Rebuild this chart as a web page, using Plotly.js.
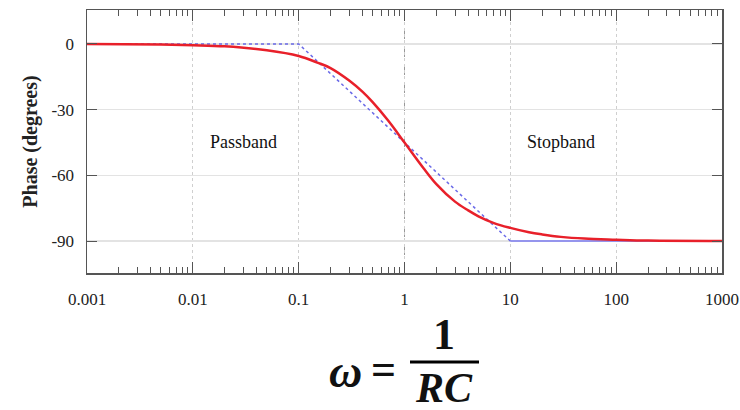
<!DOCTYPE html>
<html>
<head>
<meta charset="utf-8">
<script src="https://cdn.plot.ly/plotly-3.0.1.min.js"></script>
<style>html,body{margin:0;padding:0;background:#fff;}#chart{width:740px;height:410px;}</style>
</head>
<body>
<div id="chart"></div>
<script>
// Frequency (normalised, omega*RC) and phase
const freq = [0.001, 0.005, 0.01, 0.02, 0.05, 0.1, 0.15, 0.2, 0.3, 0.4, 0.5, 0.7, 1, 1.5, 2, 3, 4, 5, 7, 10, 15, 20, 30, 50, 100, 200, 1000];
const phase = [0, -0.3, -0.6, -1.1, -2.9, -5.5, -8.5, -11, -16.7, -21.8, -26.6, -35, -45, -56.5, -64, -72, -76, -78.7, -81.8, -84, -86, -87, -88.1, -88.9, -89.4, -89.8, -90];
// Straight-line (asymptotic) approximation
const asymFreq = [0.001, 0.1, 10];
const asymPhase = [0, 0, -90];
const flatFreq = [10, 1000];
const flatPhase = [-90, -90];
const yTicks = [0, -30, -60, -90];
const yTickText = ['0', '-30', '-60', '-90'];
const xTicks = [0.001, 0.01, 0.1, 1, 10, 100, 1000];
const xTickText = ['0.001', '0.01', '0.1', '1', '10', '100', '1000'];
const bandLabels = ['Passband', 'Stopband'];
const bandFreq = [0.03, 30];
const bandPhase = [-45, -45];

const serif = "'Liberation Serif', serif";

const traces = [
  {x: flatFreq, y: flatPhase, mode: 'lines', line: {color: '#7b7bf0', width: 1.5}, hoverinfo: 'skip'},
  {x: asymFreq, y: asymPhase, mode: 'lines', line: {color: '#6a6ae8', width: 1.5, dash: 'dot'}, hoverinfo: 'skip'},
  {x: freq, y: phase, mode: 'lines', line: {color: '#e8202a', width: 2.5, shape: 'spline'}}
];

const ann = (x, y, text, size, xref, yref) => ({x, y, text, showarrow: false, xref: xref || 'x', yref: yref || 'y', font: {family: serif, size, color: '#111'}, xanchor: 'center', yanchor: 'middle'});

const annotations = bandLabels.map((t, i) => ann(Math.log10(bandFreq[i]), bandPhase[i], t, 18));
annotations.push(
  ann((345 - 87) / 635, (273 - 371) / 263, '<b><i>ω</i></b>', 46, 'paper', 'paper'),
  ann((383 - 87) / 635, (273 - 369) / 263, '<b>=</b>', 44, 'paper', 'paper'),
  ann((444 - 87) / 635, (273 - 334) / 263, '<b>1</b>', 44, 'paper', 'paper'),
  ann((444 - 87) / 635, (273 - 388) / 263, '<b><i>RC</i></b>', 42, 'paper', 'paper')
);

const layout = {
  width: 740, height: 410,
  margin: {l: 87, r: 18, t: 10, b: 137},
  paper_bgcolor: '#fff', plot_bgcolor: '#fff',
  showlegend: false,
  font: {family: serif, color: '#222'},
  xaxis: {
    type: 'log', range: [-3, 3],
    tickvals: xTicks, ticktext: xTickText,
    ticks: 'inside', ticklen: 11, tickwidth: 1, tickcolor: '#555',
    mirror: 'allticks', showline: true, linecolor: '#555', linewidth: 1.5,
    showgrid: true, gridcolor: '#cfcfcf', griddash: 'dot', gridwidth: 1,
    tickfont: {family: serif, size: 17, color: '#222'},
    ticklabelstandoff: 10,
    zeroline: false,
    minor: {ticks: 'inside', ticklen: 6, tickcolor: '#555', dtick: 'D1', showgrid: false}
  },
  yaxis: {
    range: [-104.6, 15.5],
    tickvals: yTicks, ticktext: yTickText,
    ticks: 'inside', ticklen: 10, tickcolor: '#555',
    mirror: 'allticks', showline: true, linecolor: '#555', linewidth: 1.5,
    showgrid: true, gridcolor: '#e3e3e3', gridwidth: 1.5,
    zeroline: false,
    tickfont: {family: serif, size: 17, color: '#222'},
    ticklabelstandoff: 8,
    title: {text: '<b>Phase (degrees)</b>', font: {family: serif, size: 20, color: '#222'}, standoff: 8}
  },
  shapes: [
    {type: 'line', xref: 'x', yref: 'paper', x0: 1, x1: 1, y0: 0, y1: 1, line: {color: '#999', width: 1, dash: 'dash'}, layer: 'below'},
    {type: 'line', xref: 'paper', yref: 'paper', x0: (410 - 87) / 635, x1: (479 - 87) / 635, y0: (273 - 362) / 263, y1: (273 - 362) / 263, line: {color: '#000', width: 3}}
  ],
  annotations: annotations
};

Plotly.newPlot('chart', traces, layout, {staticPlot: true, displayModeBar: false});
</script>
</body>
</html>
